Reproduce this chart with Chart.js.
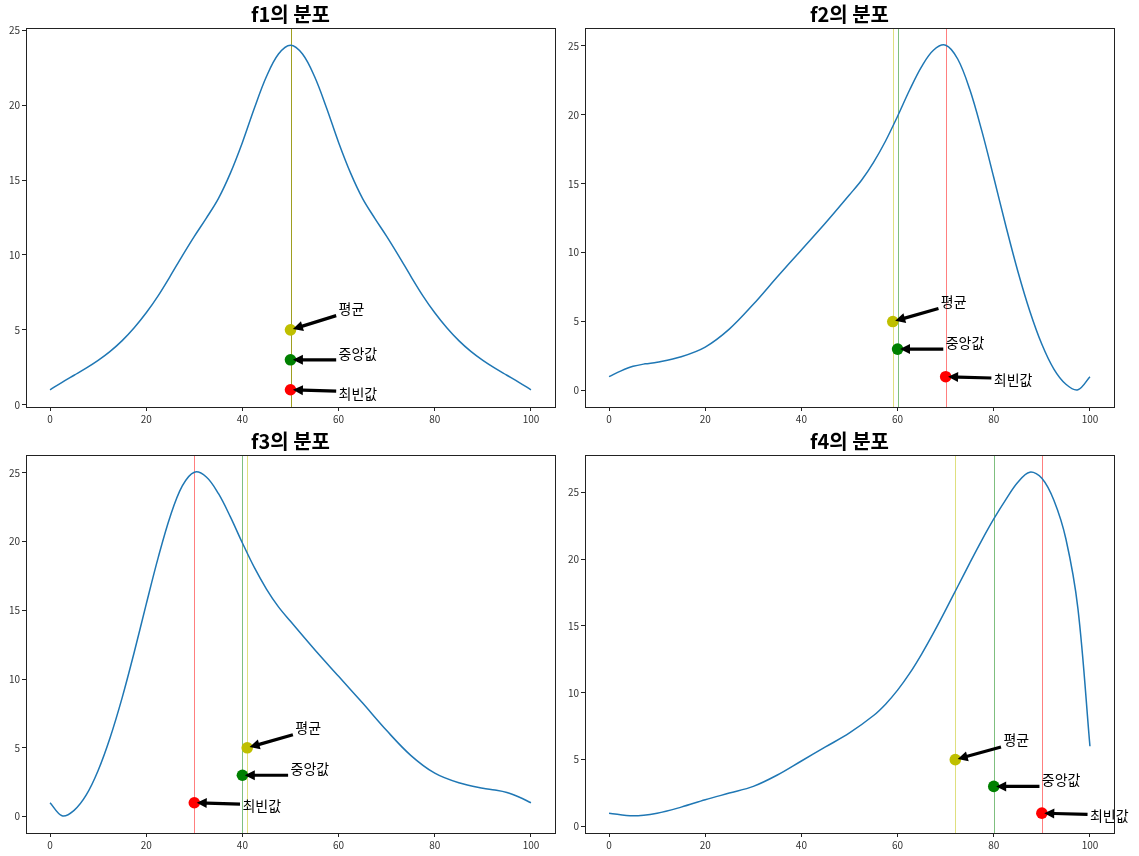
<!DOCTYPE html>
<html>
<head>
<meta charset="utf-8">
<script src="https://cdn.jsdelivr.net/npm/chart.js@4.4.1/dist/chart.umd.min.js"></script>
<style>
  body { margin: 0; background: #fff; width: 1139px; height: 856px; overflow: hidden; position: relative; }
  .cell { position: absolute; }
</style>
</head>
<body>
<div class="cell" style="left:0;top:0;width:570px;height:428px"><canvas id="c1"></canvas></div>
<div class="cell" style="left:550px;top:0;width:589px;height:428px"><canvas id="c2"></canvas></div>
<div class="cell" style="left:0;top:427px;width:570px;height:427px"><canvas id="c3"></canvas></div>
<div class="cell" style="left:550px;top:427px;width:589px;height:427px"><canvas id="c4"></canvas></div>
<script>
// curve samples
const f1X = [0, 2.5, 5, 7.5, 10, 12.5, 15, 17.5, 20, 22.5, 25, 27.5, 30, 32.5, 35, 37.5, 40, 42.5, 45, 47.5,
             50, 52.5, 55, 57.5, 60, 62.5, 65, 67.5, 70, 72.5, 75, 77.5, 80, 82.5, 85, 87.5, 90, 92.5, 95, 97.5, 100];
const f1Y = [1, 1.5, 1.97, 2.44, 2.96, 3.56, 4.28, 5.14, 6.14, 7.29, 8.59, 9.94, 11.24, 12.46, 13.76, 15.46, 17.51, 19.81, 21.91, 23.41,
             24, 23.41, 21.91, 19.81, 17.51, 15.46, 13.76, 12.46, 11.24, 9.94, 8.59, 7.29, 6.14, 5.14, 4.28, 3.56, 2.96, 2.44, 1.97, 1.5, 1];

const f2X = [0, 2.5, 5, 7.5, 10, 15, 20, 25, 30, 35, 40, 45, 50, 52.5, 55, 57.5, 60, 62.5, 65, 67.5, 70, 72.5,
             75, 77.5, 80, 82.5, 85, 87.5, 90, 92.5, 95, 97.5, 100];
const f2Y = [1, 1.42, 1.75, 1.93, 2.05, 2.45, 3.15, 4.45, 6.25, 8.25, 10.2, 12.15, 14.2, 15.25, 16.55, 18.1, 19.9, 21.8, 23.5, 24.7, 25.05, 24.05,
             21.85, 18.85, 15.45, 11.95, 8.65, 5.75, 3.35, 1.55, 0.45, 0.05, 1];

const f3X = [0, 2.5, 5, 7.5, 10, 12.5, 15, 17.5, 20, 22.5, 25, 27.5, 30, 32.5, 35, 37.5, 40, 42.5, 45, 47.5,
             50, 55, 60, 65, 70, 75, 80, 85, 90, 92.5, 95, 97.5, 100];
const f3Y = [1, 0.05, 0.45, 1.55, 3.35, 5.75, 8.65, 11.95, 15.45, 18.85, 21.85, 24.05, 25.05, 24.7, 23.5, 21.8, 19.9, 18.1, 16.55, 15.25,
             14.2, 12.15, 10.2, 8.25, 6.25, 4.45, 3.15, 2.45, 2.05, 1.93, 1.75, 1.42, 1];

const f4X = [0, 5, 10, 15, 20, 25, 30, 35, 40, 45, 50, 55, 57.5, 60, 62.5, 65, 67.5, 70, 72.5, 75,
             77.5, 80, 82.5, 85, 87.5, 90, 92.5, 95, 97.5, 100];
const f4Y = [1, 0.8, 1, 1.45, 2, 2.5, 3, 3.85, 4.9, 5.95, 7, 8.3, 9.15, 10.2, 11.45, 12.9, 14.5, 16.2, 17.95, 19.7,
             21.4, 23, 24.45, 25.75, 26.5, 26.05, 24.4, 21.5, 16.3, 6];

const titles = ['f1의 분포', 'f2의 분포', 'f3의 분포', 'f4의 분포'];
const means = [50, 59, 41, 72];
const medians = [50, 60, 40, 80];
const modes = [50, 70, 30, 90];

// mean, median, mode
const statColors = ['#bfbf00', '#008000', '#ff0000'];
const lineColors = ['rgba(191,191,0,0.5)', 'rgba(0,128,0,0.5)', 'rgba(255,0,0,0.5)'];
const markerLevels = [5, 3, 1];
const labelTexts = ['평균', '중앙값', '최빈값'];
const arrowLevels = [6, 3, 0.9];
const textLevels = [6, 3, 0.35];
const labelShift = 10;

const xTicks = [0, 20, 40, 60, 80, 100];
const yTicks = [0, 5, 10, 15, 20, 25];

const FONT = "'Noto Sans CJK KR', 'Noto Sans', sans-serif";

function drawArrow(ctx, x0, y0, x1, y1)
{
    const dx = x1 - x0, dy = y1 - y0;
    const len = Math.hypot(dx, dy);
    const ux = dx / len, uy = dy / len;
    const sx = x0 + ux * len * 0.05, sy = y0 + uy * len * 0.05;
    const ex = x1 - ux * len * 0.05, ey = y1 - uy * len * 0.05;
    const hl = 10, hw = 5, sw = 1.6;
    const bx = ex - ux * hl, by = ey - uy * hl;
    const nx = -uy, ny = ux;
    ctx.beginPath();
    ctx.moveTo(sx + nx * sw, sy + ny * sw);
    ctx.lineTo(bx + nx * sw, by + ny * sw);
    ctx.lineTo(bx + nx * hw, by + ny * hw);
    ctx.lineTo(ex, ey);
    ctx.lineTo(bx - nx * hw, by - ny * hw);
    ctx.lineTo(bx - nx * sw, by - ny * sw);
    ctx.lineTo(sx - nx * sw, sy - ny * sw);
    ctx.closePath();
    ctx.fillStyle = '#000';
    ctx.fill();
}

// vertical stat lines, frame and arrow labels
const overlay = {
    id: 'overlay',
    beforeDatasetsDraw(chart, args, opts) {
        const { ctx, chartArea: a, scales: { x } } = chart;
        ctx.save();
        ctx.lineWidth = 1;
        // mode first, mean last, so overlapping lines come out olive
        for (let i = opts.stats.length - 1; i >= 0; i--) {
            const px = Math.round(x.getPixelForValue(opts.stats[i])) + 0.5;
            ctx.strokeStyle = lineColors[i];
            ctx.beginPath();
            ctx.moveTo(px, a.top);
            ctx.lineTo(px, a.bottom);
            ctx.stroke();
        }
        ctx.restore();
    },
    afterDraw(chart, args, opts) {
        const { ctx, chartArea: a, scales: { x, y } } = chart;
        ctx.save();
        ctx.strokeStyle = '#222';
        ctx.lineWidth = 1;
        ctx.strokeRect(Math.round(a.left) + 0.5, Math.round(a.top) + 0.5,
            Math.round(a.right - a.left), Math.round(a.bottom - a.top));

        opts.stats.forEach((v, i) => {
            const tx = x.getPixelForValue(v + labelShift);
            const ty = y.getPixelForValue(arrowLevels[i]);
            drawArrow(ctx, tx, ty, x.getPixelForValue(v), y.getPixelForValue(markerLevels[i]));
            ctx.fillStyle = '#000';
            ctx.font = '14px ' + FONT;
            ctx.textAlign = 'left';
            ctx.textBaseline = 'alphabetic';
            ctx.fillText(labelTexts[i], tx, y.getPixelForValue(textLevels[i]) - 1);
        });
        ctx.restore();
    }
};

function range(values, extra)
{
    const all = values.concat(extra);
    const lo = Math.min(...all), hi = Math.max(...all);
    const m = (hi - lo) * 0.05;
    return [lo - m, hi + m];
}

function makeChart(id, idx, xs, ys, yWidth, padRight)
{
    const stats = [means[idx], medians[idx], modes[idx]];
    const [yMin, yMax] = range(ys, markerLevels);
    const [xMin, xMax] = range(xs, stats);

    const datasets = [{
        data: xs.map((v, i) => ({ x: v, y: ys[i] })),
        borderColor: '#1f77b4',
        borderWidth: 1.5,
        pointRadius: 0,
        tension: 0.35,
        fill: false,
    }];
    stats.forEach((v, i) => {
        datasets.push({
            data: [{ x: v, y: markerLevels[i] }],
            showLine: false,
            pointRadius: 5.8,
            pointBackgroundColor: statColors[i],
            pointBorderWidth: 0,
            borderColor: statColors[i],
        });
    });

    const tickFont = { family: FONT, size: 10 };
    return new Chart(document.getElementById(id), {
        type: 'line',
        data: { datasets: datasets },
        plugins: [overlay],
        options: {
            responsive: true,
            maintainAspectRatio: false,
            animation: false,
            layout: { padding: { left: 0, right: padRight, top: 0, bottom: 0 } },
            scales: {
                x: {
                    type: 'linear',
                    min: xMin,
                    max: xMax,
                    afterBuildTicks: (s) => { s.ticks = xTicks.map(v => ({ value: v })); },
                    afterFit: (s) => { s.height = 21; },
                    grid: { drawOnChartArea: false, drawTicks: true, tickLength: 4, color: '#222' },
                    border: { display: true, color: '#222' },
                    ticks: { font: tickFont, color: '#333', padding: 2, maxRotation: 0 },
                },
                y: {
                    type: 'linear',
                    min: yMin,
                    max: yMax,
                    afterBuildTicks: (s) => { s.ticks = yTicks.map(v => ({ value: v })); },
                    afterFit: (s) => { s.width = yWidth; },
                    grid: { drawOnChartArea: false, drawTicks: true, tickLength: 4, color: '#222' },
                    border: { display: true, color: '#222' },
                    ticks: { font: tickFont, color: '#333', padding: 2 },
                },
            },
            plugins: {
                legend: { display: false },
                tooltip: { enabled: false },
                title: {
                    display: true,
                    text: titles[idx],
                    fullSize: false,
                    color: '#000',
                    font: { family: FONT, size: 20, weight: 'bold' },
                    padding: { top: 2, bottom: 2 },
                },
                overlay: { stats: stats },
            },
        },
    });
}

makeChart('c1', 0, f1X, f1Y, 26, 15);
makeChart('c2', 1, f2X, f2Y, 35, 25);
makeChart('c3', 2, f3X, f3Y, 26, 15);
makeChart('c4', 3, f4X, f4Y, 35, 25);
</script>
</body>
</html>
